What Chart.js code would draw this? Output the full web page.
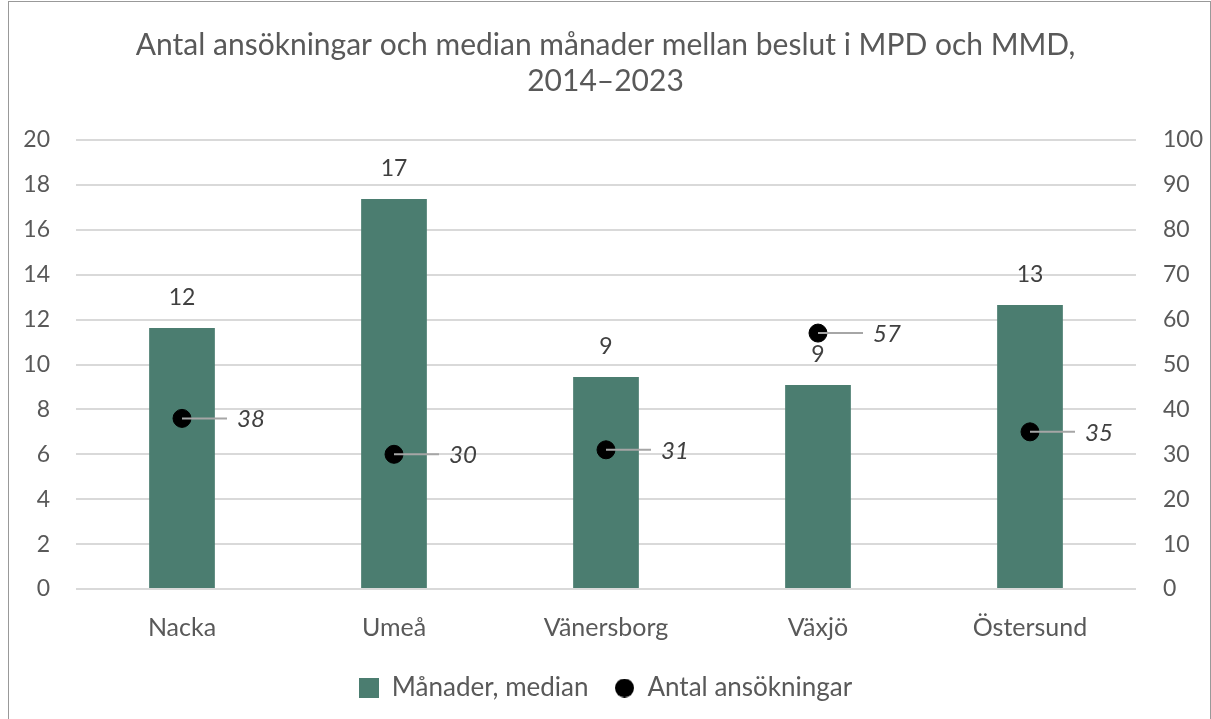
<!DOCTYPE html>
<html>
<head>
<meta charset="utf-8">
<script src="https://cdn.jsdelivr.net/npm/chart.js@4.4.1/dist/chart.umd.min.js"></script>
<style>
    html, body { margin: 0; padding: 0; background: #fff; }
    #wrap { position: relative; width: 1211px; height: 719px; overflow: hidden; }
    #frame { position: absolute; left: 8px; top: 1px; width: 1203px; height: 760px; border: 1px solid #999; box-sizing: border-box; pointer-events: none; }
    canvas { position: absolute; left: 0; top: 0; }
</style>
</head>
<body>
<div id="wrap">
    <canvas id="chart" width="1211" height="719"></canvas>
    <div id="frame"></div>
</div>
<script>
const titleLines = ['Antal ansökningar och median månader mellan beslut i MPD och MMD,', '2014–2023'];
const categories = ['Nacka', 'Umeå', 'Vänersborg', 'Växjö', 'Östersund'];
const monthsMedian = [11.63, 17.37, 9.44, 9.09, 12.65];
const applications = [38, 30, 31, 57, 35];

const FONT = 'Lato';
const TEXT = '#595959';
const LABEL = '#404040';
const BAR = '#4b7d70';

// small legend markers: square for the bars, round dot for the points
function marker(kind, size, color) {
    const c = document.createElement('canvas');
    c.width = size;
    c.height = size;
    const g = c.getContext('2d');
    g.fillStyle = color;
    if (kind === 'rect') {
        g.fillRect(0, 0, size, size);
    } else {
        g.beginPath();
        g.arc(size / 2, size / 2, size / 2, 0, Math.PI * 2);
        g.fill();
    }
    return c;
}
const barMarker = marker('rect', 20, BAR);
const dotMarker = marker('circle', 19, '#000');

// value labels: rounded numbers above the bars, italic numbers with leader line beside the points
const valueLabels = {
    id: 'valueLabels',
    afterDatasetsDraw(chart) {
        const ctx = chart.ctx;
        ctx.save();
        chart.data.datasets.forEach((ds, i) => {
            const meta = chart.getDatasetMeta(i);
            meta.data.forEach((el, j) => {
                if (ds.type === 'bar') {
                    ctx.font = `23px ${FONT}`;
                    ctx.fillStyle = LABEL;
                    ctx.textAlign = 'center';
                    ctx.textBaseline = 'middle';
                    ctx.fillText(Math.round(ds.data[j]), el.x, el.y - 30);
                } else {
                    ctx.strokeStyle = '#a6a6a6';
                    ctx.lineWidth = 2;
                    ctx.beginPath();
                    ctx.moveTo(el.x, el.y);
                    ctx.lineTo(el.x + 45, el.y);
                    ctx.stroke();
                    ctx.font = `italic 24px ${FONT}`;
                    ctx.fillStyle = LABEL;
                    ctx.textAlign = 'left';
                    ctx.textBaseline = 'middle';
                    ctx.fillText(ds.data[j], el.x + 55, el.y + 1);
                }
            });
        });
        ctx.restore();
    }
};

new Chart(document.getElementById('chart'), {
    data: {
        labels: categories,
        datasets: [
            {
                type: 'bar',
                label: 'Månader, median',
                data: monthsMedian,
                backgroundColor: BAR,
                yAxisID: 'y',
                order: 1,
                categoryPercentage: 1,
                barPercentage: 0.31
            },
            {
                type: 'line',
                label: 'Antal ansökningar',
                data: applications,
                showLine: false,
                pointStyle: 'circle',
                pointRadius: 9,
                pointBackgroundColor: '#000',
                pointBorderColor: '#000',
                backgroundColor: '#000',
                borderColor: '#000',
                yAxisID: 'y1',
                order: 0
            }
        ]
    },
    options: {
        responsive: false,
        animation: false,
        layout: { padding: { left: 0, right: 0, top: 0, bottom: 8 } },
        plugins: {
            title: {
                display: true,
                text: titleLines,
                color: TEXT,
                font: { family: FONT, size: 30, weight: 'normal', lineHeight: 1.2 },
                padding: { top: 27, bottom: 41 }
            },
            legend: {
                position: 'bottom',
                labels: {
                    usePointStyle: true,
                    pointStyleWidth: 20,
                    padding: 26,
                    color: TEXT,
                    font: { family: FONT, size: 26 },
                    generateLabels(chart) {
                        return chart.data.datasets.map((ds, i) => ({
                            text: ds.label,
                            fillStyle: i === 0 ? BAR : '#000',
                            strokeStyle: i === 0 ? BAR : '#000',
                            lineWidth: 0,
                            pointStyle: i === 0 ? barMarker : dotMarker,
                            fontColor: TEXT,
                            datasetIndex: i,
                            hidden: false
                        }));
                    }
                }
            },
            tooltip: { enabled: false }
        },
        scales: {
            x: {
                grid: { display: false },
                border: { display: false },
                ticks: { color: TEXT, font: { family: FONT, size: 25 }, padding: 16 },
                afterFit(s) { s.height = 60; }
            },
            y: {
                position: 'left',
                min: 0,
                max: 20,
                grid: { color: '#d9d9d9', lineWidth: 2, drawTicks: false },
                border: { display: false },
                ticks: { stepSize: 2, color: TEXT, font: { family: FONT, size: 23 }, padding: 26 },
                afterFit(s) { s.width = 76; }
            },
            y1: {
                position: 'right',
                min: 0,
                max: 100,
                grid: { display: false, drawTicks: false },
                border: { display: false },
                ticks: { stepSize: 10, color: TEXT, font: { family: FONT, size: 23 }, padding: 27 },
                afterFit(s) { s.width = 75; }
            }
        }
    },
    plugins: [valueLabels]
});
</script>
</body>
</html>
